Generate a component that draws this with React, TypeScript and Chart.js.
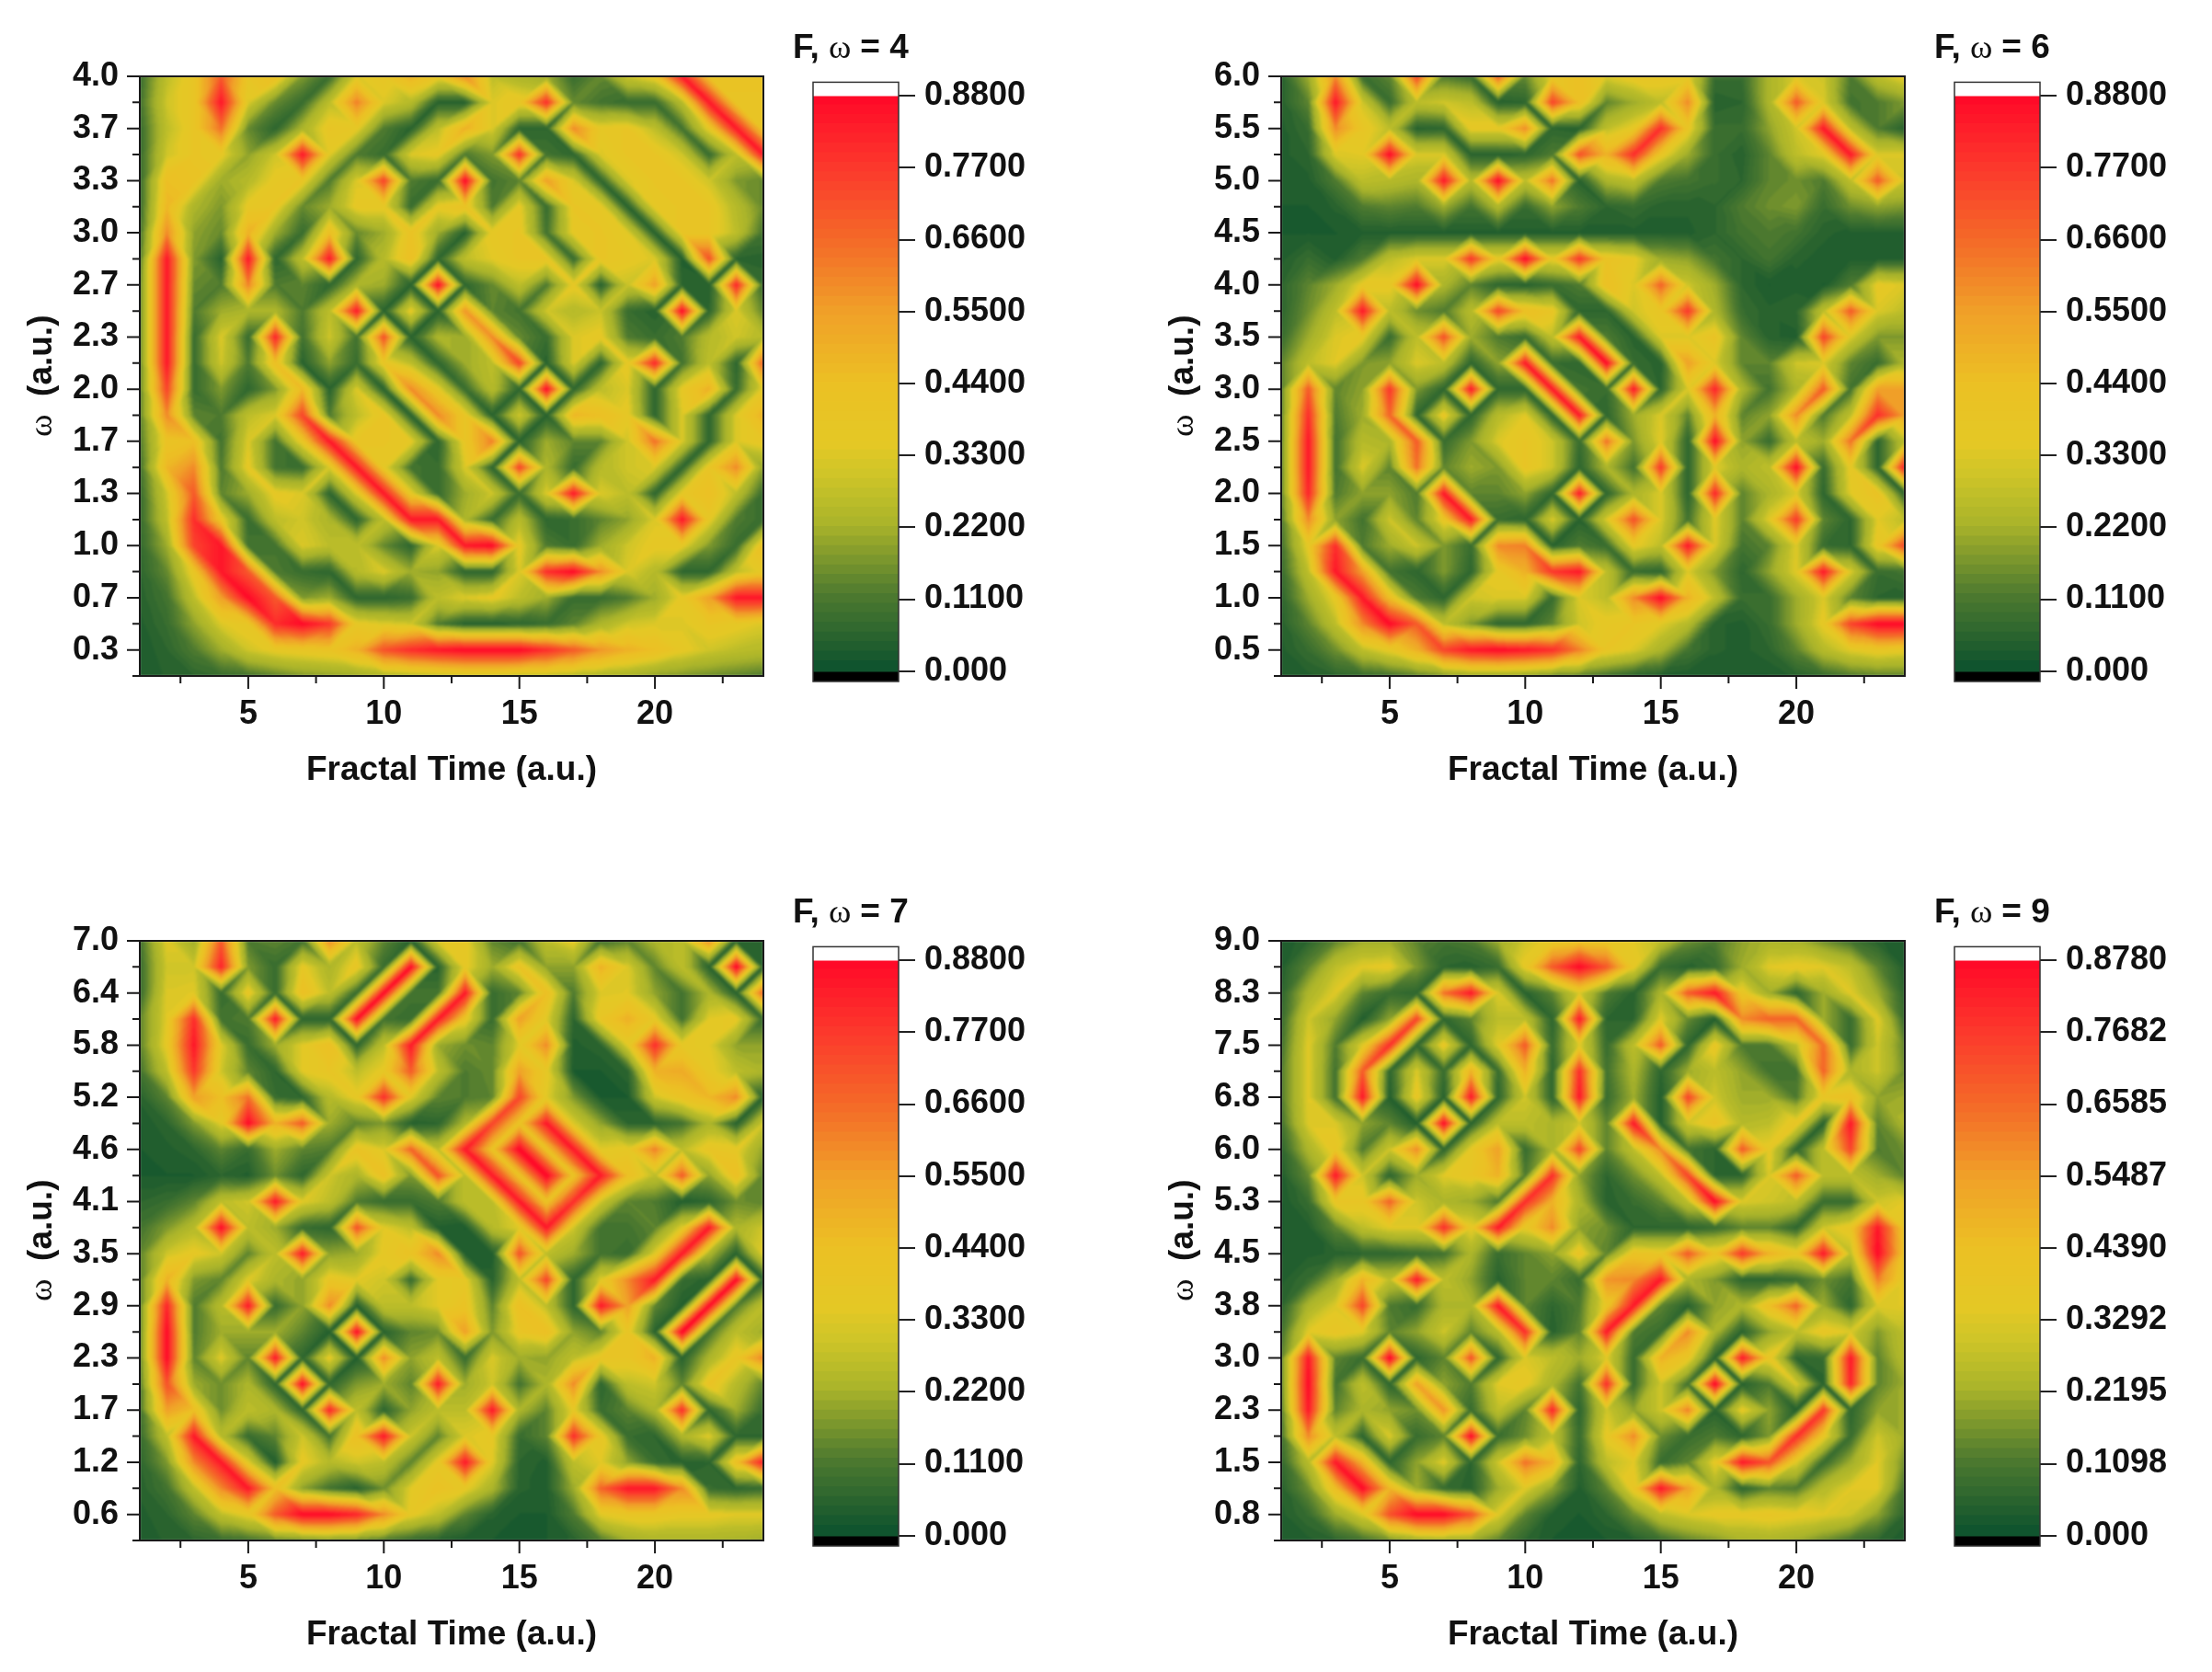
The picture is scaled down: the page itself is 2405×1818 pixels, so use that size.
import React, { useEffect, useRef } from "react";
import { Chart, registerables } from "chart.js";
Chart.register(...registerables);

const FONT = 'OmegaSerif, "Liberation Sans", Arial, sans-serif';
const TIME = [1,2,3,4,5,6,7,8,9,10,11,12,13,14,15,16,17,18,19,20,21,22,23,24];
const X_TICKS = [2.5,5,7.5,10,12.5,15,17.5,20,22.5];
const X_MAJOR = [5,10,15,20];

const f4Rows = [
[8,30,40,70,40,45,18,8,35,40,50,40,60,30,25,22,8,15,33,40,85,42,42,42],
[10,33,40,85,35,15,8,30,62,35,28,5,5,35,40,80,15,10,8,8,28,85,40,40],
[8,30,40,65,15,6,25,40,38,12,5,30,50,35,6,6,60,38,40,30,10,38,85,40],
[8,33,40,38,20,33,85,36,12,8,35,38,12,18,80,10,6,35,40,40,33,8,30,85],
[8,45,42,22,28,38,40,12,35,75,12,8,88,10,14,55,35,6,35,40,40,33,18,15],
[8,48,25,18,38,40,15,22,38,38,8,38,42,12,38,8,40,38,5,38,40,40,28,15],
[10,60,20,15,50,22,8,45,15,22,42,22,5,38,40,10,38,40,36,5,40,40,30,10],
[12,85,18,5,85,6,30,85,6,28,45,6,30,36,40,40,8,40,38,35,4,72,6,5],
[14,85,15,12,62,12,14,6,25,22,5,88,6,15,30,12,38,5,32,55,6,5,82,8],
[14,85,12,22,25,25,12,30,85,5,38,5,58,14,10,33,28,32,8,5,88,6,35,14],
[14,85,8,35,8,82,10,33,10,72,5,25,22,60,15,8,35,38,12,8,12,28,33,28],
[14,85,8,33,12,45,5,20,8,40,30,6,22,30,75,5,35,6,38,82,10,30,6,70],
[14,75,8,18,6,18,48,5,35,5,60,38,8,28,6,88,6,30,35,6,38,50,8,38],
[14,60,14,12,30,35,75,12,30,40,5,60,40,5,33,5,48,45,38,6,35,6,35,50],
[12,42,45,10,35,10,40,85,40,40,38,6,40,62,5,22,14,14,33,65,35,6,35,40],
[10,48,60,12,38,10,8,35,85,38,10,8,35,6,75,25,8,28,33,35,6,40,60,20],
[8,33,70,14,22,38,35,6,35,85,38,8,22,33,8,35,85,35,30,6,38,45,30,8],
[8,30,80,40,8,30,33,25,6,30,85,85,25,8,28,6,8,14,20,35,85,38,12,8],
[7,22,75,85,10,10,35,30,30,15,6,35,85,88,38,12,8,22,33,38,38,18,8,45],
[6,15,40,85,70,12,8,6,28,35,22,20,6,6,35,80,88,60,35,28,6,6,30,38],
[5,10,30,55,88,70,18,22,6,6,8,30,35,38,30,22,8,8,12,22,38,55,85,85],
[4,8,20,35,40,80,88,78,38,35,33,12,5,5,6,8,14,25,33,35,35,40,38,35],
[3,6,12,22,33,38,40,42,50,72,80,85,88,88,88,80,70,58,50,45,38,33,30,28],
[3,5,6,8,10,14,18,20,22,26,28,30,32,32,30,30,28,26,24,20,18,16,14,12],
];
const f6Rows = [
[5,22,60,8,14,75,12,8,70,15,38,45,35,40,40,38,8,8,25,35,33,12,30,38],
[5,14,85,33,8,30,33,30,5,6,75,45,14,22,30,60,5,6,25,70,35,10,12,18],
[4,8,60,40,30,5,6,38,38,60,6,5,30,38,80,40,8,8,20,33,85,30,12,5],
[4,6,35,36,88,35,35,5,5,6,12,72,50,80,40,22,8,5,14,30,36,85,35,35],
[4,4,12,30,28,25,85,28,88,30,65,5,25,30,12,10,8,6,14,16,12,30,70,33],
[3,3,5,12,14,12,22,10,26,8,20,12,6,8,5,5,6,12,16,18,8,16,20,18],
[3,3,3,4,4,4,4,4,4,4,4,4,4,4,4,4,6,10,12,10,5,4,4,4],
[4,8,4,12,30,35,35,78,38,88,38,78,42,38,22,20,10,6,10,5,4,4,4,4],
[6,14,22,38,38,88,25,14,6,5,8,12,45,35,68,33,22,6,3,4,3,12,38,35],
[6,16,30,85,30,16,12,28,75,45,40,6,6,33,40,78,25,8,5,6,30,70,35,30],
[8,22,35,38,8,30,72,22,12,8,30,85,12,5,35,35,42,14,5,4,75,35,18,18],
[14,30,36,18,20,35,30,6,20,85,8,6,88,8,5,55,35,14,14,33,35,14,8,25],
[14,70,14,20,78,18,6,85,6,6,85,10,8,85,6,35,82,25,10,25,70,10,55,55],
[14,80,12,22,68,6,40,6,28,36,6,85,6,22,35,14,50,14,20,60,12,30,80,55],
[14,85,10,28,25,70,8,18,35,40,33,8,65,18,36,6,88,20,8,30,22,65,6,30],
[14,85,10,35,14,65,14,22,18,40,33,6,25,10,78,6,36,25,30,88,8,38,6,85],
[14,82,12,20,20,12,85,14,14,20,6,85,6,25,35,6,82,14,25,35,6,36,42,6],
[12,60,20,10,33,14,40,85,8,6,35,5,35,72,35,10,36,14,36,78,14,6,36,30],
[10,38,80,12,22,33,18,8,60,62,5,12,8,38,30,85,35,10,14,35,8,6,40,75],
[8,30,85,55,10,6,18,6,38,50,78,85,30,8,6,35,18,6,20,36,85,35,8,10],
[6,22,38,85,45,12,6,33,35,35,8,35,30,60,88,50,30,8,8,22,35,14,6,5],
[5,14,30,60,88,70,30,18,6,6,14,33,38,40,36,28,5,4,8,22,38,75,88,88],
[4,8,16,30,38,50,75,85,88,85,80,62,40,35,25,10,5,4,6,14,28,36,40,38],
[3,4,6,8,10,14,18,22,22,20,16,14,10,6,4,3,3,3,3,5,8,12,14,14],
];
const f7Rows = [
[10,36,22,70,12,14,10,60,30,14,5,35,38,14,10,30,38,10,14,25,30,60,5,5],
[8,33,33,82,18,8,38,25,40,8,88,5,38,22,42,20,20,50,35,14,30,5,90,5],
[8,35,36,8,40,8,45,30,8,88,10,10,85,8,14,45,12,35,36,20,10,25,5,70],
[14,36,80,10,12,85,6,6,88,10,8,85,40,8,55,36,6,40,50,38,10,36,38,8],
[14,38,85,36,8,22,36,45,6,30,85,22,16,14,36,60,4,6,36,80,38,36,20,20],
[10,30,78,33,14,6,36,40,30,38,70,30,12,15,55,38,3,3,6,50,52,38,30,25],
[5,14,55,45,65,8,6,28,38,80,36,14,12,14,75,36,18,3,3,33,42,48,60,5],
[3,6,18,36,88,50,70,22,14,18,5,6,25,75,42,85,35,20,6,6,10,25,5,33],
[3,4,6,14,8,22,14,12,42,35,68,30,85,42,90,42,85,36,38,62,30,40,38,20],
[3,3,3,6,4,16,6,33,25,44,18,72,30,85,42,90,42,85,45,30,70,20,45,14],
[6,8,14,30,33,85,36,30,12,8,8,12,30,30,85,42,80,33,14,12,4,6,16,14],
[10,18,28,88,30,22,8,6,72,36,30,4,3,28,36,85,33,10,10,14,36,85,25,33],
[14,33,38,33,14,30,85,20,22,38,42,60,4,4,72,30,22,10,8,36,85,25,5,36],
[14,50,18,14,36,25,20,40,36,33,8,36,38,5,30,75,6,36,60,85,8,5,88,5],
[14,82,12,28,85,8,20,60,4,30,30,36,42,14,45,30,6,85,55,14,4,88,12,30],
[14,88,12,22,22,22,14,4,88,5,14,16,55,18,40,45,20,14,40,5,90,10,30,22],
[14,88,14,36,14,85,6,38,4,60,20,30,8,35,22,20,30,40,40,50,5,25,40,62],
[12,72,22,16,25,6,88,6,18,22,14,85,22,33,10,25,60,6,30,33,14,42,28,14],
[10,55,45,16,30,25,6,82,30,6,20,30,30,85,25,14,38,8,14,25,80,6,22,8],
[8,30,85,28,8,14,33,10,45,85,33,14,35,38,8,14,80,40,8,6,25,36,6,6],
[6,18,60,85,36,4,38,28,33,30,14,38,85,36,6,4,30,36,20,8,5,6,45,85],
[5,10,30,60,85,45,20,10,5,16,36,42,38,25,5,4,22,68,85,85,60,8,6,8],
[4,6,14,30,38,70,88,88,82,60,38,30,14,5,3,3,12,36,40,40,38,38,36,36],
[3,5,6,8,10,14,16,18,16,12,8,5,3,3,3,3,5,12,22,25,25,25,24,22],
];
const f9Rows = [
[3,6,14,22,22,14,10,12,22,33,38,42,40,36,30,16,12,20,25,24,16,10,5,3],
[4,14,30,36,38,18,6,5,8,38,70,88,70,38,8,5,8,22,36,38,36,30,14,4],
[6,25,36,14,8,6,65,85,35,5,14,35,12,5,25,70,85,40,22,6,22,36,22,6],
[8,33,20,4,20,75,6,14,30,30,6,85,6,6,36,15,4,60,68,68,22,8,36,8],
[10,36,12,36,80,6,40,6,36,70,8,36,8,30,70,6,40,12,12,30,66,8,33,14],
[12,36,10,70,6,35,8,50,8,50,6,80,10,25,6,22,30,20,10,10,68,25,33,16],
[12,36,10,85,4,40,5,85,6,33,6,85,8,22,4,75,33,22,22,12,40,45,20,22],
[10,35,35,20,14,4,88,5,30,30,25,33,14,85,4,33,42,28,30,40,5,85,14,25],
[6,25,40,12,33,60,6,38,55,8,25,75,14,30,60,10,6,70,38,6,30,75,12,16],
[4,15,85,33,6,22,36,40,50,12,80,20,6,16,30,75,6,6,35,70,30,30,22,14],
[3,8,40,40,68,33,25,22,12,80,50,25,5,8,14,30,88,35,33,30,8,8,33,36],
[3,4,14,30,36,36,80,38,85,38,60,20,16,6,6,6,8,14,14,6,33,40,85,40],
[3,4,5,6,6,8,10,25,8,14,20,42,14,42,40,70,42,78,50,40,85,30,88,42],
[4,8,22,50,30,85,30,20,5,14,14,8,58,60,85,25,18,6,6,8,16,10,62,36],
[6,25,35,75,12,8,25,25,85,14,6,12,40,85,14,5,20,25,45,68,22,6,35,36],
[10,36,40,36,14,20,33,14,28,80,5,14,85,12,8,60,25,5,20,30,40,35,18,30],
[14,85,14,8,90,6,14,72,6,35,30,22,36,8,50,40,5,85,40,6,8,85,14,28],
[14,88,10,30,6,55,20,12,36,38,25,10,80,8,33,10,90,5,12,35,5,82,14,22],
[12,85,14,25,20,16,58,8,30,14,82,6,33,20,33,62,5,38,20,4,78,6,20,22],
[10,60,30,6,35,8,14,88,8,16,30,8,38,60,16,8,12,6,18,80,40,8,33,22],
[7,28,85,50,6,20,36,6,33,65,50,6,30,36,8,14,38,85,72,36,8,22,36,16],
[5,16,45,88,48,22,8,5,22,36,20,4,14,40,85,55,25,6,14,12,28,36,36,10],
[4,8,22,35,72,88,88,72,36,14,4,3,6,16,30,35,38,38,40,38,36,33,20,6],
[3,4,6,10,16,22,24,22,14,6,3,3,3,4,8,14,18,24,25,22,16,10,6,3],
];

const f4Labels = ["4.0","3.7","3.3","3.0","2.7","2.3","2.0","1.7","1.3","1.0","0.7","0.3"];
const f6Labels = ["6.0","5.5","5.0","4.5","4.0","3.5","3.0","2.5","2.0","1.5","1.0","0.5"];
const f7Labels = ["7.0","6.4","5.8","5.2","4.6","4.1","3.5","2.9","2.3","1.7","1.2","0.6"];
const f9Labels = ["9.0","8.3","7.5","6.8","6.0","5.3","4.5","3.8","3.0","2.3","1.5","0.8"];

const barTicks = [0,0.11,0.22,0.33,0.44,0.55,0.66,0.77,0.88];
const barLabels = ["0.000","0.1100","0.2200","0.3300","0.4400","0.5500","0.6600","0.7700","0.8800"];
const bar9Ticks = [0,0.1098,0.2195,0.3292,0.439,0.5487,0.6585,0.7682,0.878];
const bar9Labels = ["0.000","0.1098","0.2195","0.3292","0.4390","0.5487","0.6585","0.7682","0.8780"];

const panels = [
  { name: "F, ω = 4", top: 4, rows: f4Rows, labels: f4Labels, tv: barTicks, tl: barLabels, left: 152, y: 83, barLeft: 884 },
  { name: "F, ω = 6", top: 6, rows: f6Rows, labels: f6Labels, tv: barTicks, tl: barLabels, left: 1393, y: 83, barLeft: 2125 },
  { name: "F, ω = 7", top: 7, rows: f7Rows, labels: f7Labels, tv: barTicks, tl: barLabels, left: 152, y: 1023, barLeft: 884 },
  { name: "F, ω = 9", top: 9, rows: f9Rows, labels: f9Labels, tv: bar9Ticks, tl: bar9Labels, left: 1393, y: 1023, barLeft: 2125 },
];

const STOPS: [number, number[]][] = [
  [0, [16, 84, 46]], [0.125, [78, 122, 47]], [0.25, [170, 180, 42]], [0.33, [204, 196, 40]],
  [0.39, [228, 200, 37]], [0.5, [236, 192, 36]], [0.625, [240, 160, 40]], [0.75, [244, 106, 40]],
  [0.875, [252, 58, 44]], [1, [255, 10, 40]],
];
const LEVELS = 60;
function rampColor(t: number) {
  const q = Math.min(LEVELS - 1, Math.max(0, Math.floor(t * LEVELS))) / (LEVELS - 1);
  for (let k = 1; k < STOPS.length; k++) {
    if (q <= STOPS[k][0]) {
      const [a, ca] = STOPS[k - 1];
      const [b, cb] = STOPS[k];
      const f = (q - a) / (b - a);
      return ca.map((v, j) => Math.round(v + (cb[j] - v) * f));
    }
  }
  return STOPS[STOPS.length - 1][1];
}

// Eye-reading calibration: my readings in the olive-yellow range ran a little high.
const READ_TABLE = [[0, 0], [22, 21], [30, 26], [36, 34], [42, 41], [90, 90]];
function calibrate(v: number) {
  for (let k = 1; k < READ_TABLE.length; k++) {
    if (v <= READ_TABLE[k][0]) {
      const [a, fa] = READ_TABLE[k - 1];
      const [b, fb] = READ_TABLE[k];
      return fa + ((v - a) / (b - a)) * (fb - fa);
    }
  }
  return v;
}

const contourPlugin = {
  id: "contourCells",
  beforeDatasetsDraw(chart: any) {
    const rows: number[][] = chart.options.plugins.contourCells.rows;
    const top: number = chart.options.plugins.contourCells.top;
    const step = top / 24;
    const { left, right, top: t, bottom } = chart.chartArea;
    const xs = chart.scales.x, ys = chart.scales.y;
    const w = Math.round(right - left), h = Math.round(bottom - t);
    const off = document.createElement("canvas");
    off.width = w; off.height = h;
    const octx = off.getContext("2d")!;
    const img = octx.createImageData(w, h);
    for (let py = 0; py < h; py++) {
      const ri = Math.min(22.9999, Math.max(0, (top - ys.getValueForPixel(t + py + 0.5)) / step));
      const r = Math.floor(ri), fy = ri - r;
      for (let px = 0; px < w; px++) {
        const ci = Math.min(22.9999, Math.max(0, xs.getValueForPixel(left + px + 0.5) - 1));
        const c = Math.floor(ci), fx = ci - c;
        const a = rows[r][c], b = rows[r][c + 1], d = rows[r + 1][c], e = rows[r + 1][c + 1];
        let v: number;
        if (Math.abs(a - e) <= Math.abs(b - d)) {
          v = fx >= fy ? a + fx * (b - a) + fy * (e - b) : a + fy * (d - a) + fx * (e - d);
        } else {
          v = fx + fy <= 1 ? a + fx * (b - a) + fy * (d - a) : e + (1 - fx) * (d - e) + (1 - fy) * (b - e);
        }
        const col = rampColor(calibrate(v) / 88);
        const o = (py * w + px) * 4;
        img.data[o] = col[0]; img.data[o + 1] = col[1]; img.data[o + 2] = col[2]; img.data[o + 3] = 255;
      }
    }
    octx.putImageData(img, 0, 0);
    const ctx = chart.ctx;
    ctx.save();
    ctx.beginPath();
    ctx.rect(left, t, w, h);
    ctx.clip();
    ctx.filter = "blur(1px)";
    ctx.drawImage(off, left, t);
    ctx.filter = "none";
    ctx.restore();
  },
  afterDraw(chart: any) {
    const ctx = chart.ctx;
    const { left, right, top, bottom } = chart.chartArea;
    const xs = chart.scales.x, ys = chart.scales.y;
    ctx.save();
    ctx.strokeStyle = "#1a1a1a";
    ctx.lineWidth = 2;
    ctx.strokeRect(left, top, right - left, bottom - top);
    ctx.beginPath();
    X_TICKS.forEach((v) => {
      const p = xs.getPixelForValue(v);
      ctx.moveTo(p, bottom);
      ctx.lineTo(p, bottom + (X_MAJOR.includes(v) ? 14 : 8));
    });
    ys.ticks.forEach((tk: any, i: number) => {
      const p = ys.getPixelForValue(tk.value);
      ctx.moveTo(left, p);
      ctx.lineTo(left - (i % 2 === 0 ? 14 : 8), p);
    });
    ctx.stroke();
    ctx.restore();
  },
};

const barFramePlugin = {
  id: "barFrame",
  afterDraw(chart: any) {
    const { left, right, top, bottom } = chart.chartArea;
    const ctx = chart.ctx;
    ctx.save();
    ctx.strokeStyle = "#333";
    ctx.lineWidth = 1.5;
    ctx.strokeRect(left, top, right - left, bottom - top);
    ctx.restore();
  },
};

export default function App() {
  const holder = useRef<HTMLDivElement>(null);
  useEffect(() => {
    let dead = false;
    const charts: Chart[] = [];
    const style = document.createElement("style");
    style.textContent = "@font-face{font-family:OmegaSerif;src:local('Liberation Serif');font-weight:bold;unicode-range:U+03C9;}html,body{margin:0;background:#fff}";
    document.head.appendChild(style);
    const build = () => {
      if (dead || !holder.current) return;
      panels.forEach((p) => {
        const mk = (l: number, t: number, w: number, h: number) => {
          const c = document.createElement("canvas");
          c.width = w; c.height = h;
          c.style.cssText = `position:absolute;left:${l}px;top:${t}px;width:${w}px;height:${h}px`;
          holder.current!.appendChild(c);
          return c;
        };
        const step = p.top / 24;
        const yVals = p.rows.map((_, i) => p.top - i * step);
        const padLeft = 152;
        const heat = mk(p.left - padLeft, p.y - 24, padLeft + 678 + 12, 24 + 652 + 125);
        charts.push(new Chart(heat, {
          type: "scatter",
          plugins: [contourPlugin],
          data: { datasets: [{ label: p.name, pointRadius: 0, showLine: false,
            data: p.rows.flatMap((row, i) => row.map((v, c) => ({ x: TIME[c], y: yVals[i], v }))) }] },
          options: {
            animation: false, responsive: false, devicePixelRatio: 1,
            layout: { padding: { top: 24, right: 12, left: 0, bottom: 0 } },
            plugins: { legend: { display: false }, tooltip: { enabled: false }, contourCells: { rows: p.rows, top: p.top } } as any,
            scales: {
              x: {
                type: "linear", min: 1, max: 24,
                afterBuildTicks: (s: any) => { s.ticks = X_TICKS.map((value) => ({ value })); },
                afterFit: (s: any) => { s.height = 125; s.paddingLeft = 0; s.paddingRight = 0; },
                grid: { display: false, drawTicks: false }, border: { display: false },
                ticks: { autoSkip: false, maxRotation: 0, padding: 20, color: "#111",
                  font: { family: FONT, size: 36, weight: "bold" },
                  callback: (v: any) => (X_MAJOR.includes(v) ? String(v) : "") },
                title: { display: true, text: "Fractal Time (a.u.)", color: "#111", padding: 0,
                  font: { family: FONT, size: 37, weight: "bold" } },
              },
              y: {
                type: "linear", min: step, max: p.top,
                afterBuildTicks: (s: any) => { s.ticks = yVals.map((value) => ({ value })); },
                afterFit: (s: any) => { s.width = padLeft; s.paddingTop = 0; s.paddingBottom = 0; },
                grid: { display: false, drawTicks: false }, border: { display: false },
                ticks: { autoSkip: false, padding: 23, color: "#111",
                  font: { family: FONT, size: 36, weight: "bold" },
                  callback: (_: any, i: number) => (i % 2 === 0 ? p.labels[i / 2] : "") },
                title: { display: true, text: "ω  (a.u.)", color: "#111", padding: { top: 24, bottom: 0 },
                  font: { family: FONT, size: 37, weight: "bold" } },
              },
            },
          } as any,
        }));

        const maxV = p.tv[p.tv.length - 1];
        const lo = -maxV * 0.018, hi = maxV * 1.0236;
        const bandW = maxV / LEVELS;
        const bands: any[] = [
          { data: [[lo, 0]], backgroundColor: "#000" },
          { data: [[maxV, hi]], backgroundColor: "#fff" },
        ];
        for (let k = 0; k < LEVELS; k++) {
          const c = rampColor((k + 0.5) / LEVELS);
          bands.push({ data: [[k === 0 ? lo : k * bandW, (k + 1) * bandW + bandW * 0.1]], backgroundColor: `rgb(${c[0]},${c[1]},${c[2]})` });
        }
        const barCanvas = mk(p.barLeft - 22, p.y - 58, 280, 58 + 6 + 652 + 20);
        charts.push(new Chart(barCanvas, {
          type: "bar",
          plugins: [barFramePlugin],
          data: { labels: [p.name], datasets: bands.map((b) => ({ ...b, xAxisID: "x", yAxisID: "y", borderWidth: 0, barPercentage: 1, categoryPercentage: 1 })) },
          options: {
            animation: false, responsive: false, devicePixelRatio: 1,
            layout: { padding: { left: 0, right: 0, bottom: 20, top: 0 } },
            plugins: {
              legend: { display: false }, tooltip: { enabled: false },
              title: { display: true, text: p.name, align: "start", color: "#111", padding: { top: 6, bottom: 14 },
                font: { family: FONT, size: 37, weight: "bold" } },
            },
            scales: {
              x: { display: false, stacked: true },
              y: {
                position: "right", min: lo, max: hi, stacked: false,
                afterBuildTicks: (s: any) => { s.ticks = p.tv.map((value) => ({ value })); },
                afterFit: (s: any) => { s.width = 165; s.paddingTop = 0; s.paddingBottom = 0; },
                grid: { drawOnChartArea: false, drawTicks: true, tickLength: 18, color: "#222", lineWidth: 2 },
                border: { display: false },
                ticks: { autoSkip: false, padding: 10, color: "#111",
                  font: { family: FONT, size: 36, weight: "bold" },
                  callback: (_: any, i: number) => p.tl[i] },
              },
              gutter: {
                position: "left", display: true, min: 0, max: 1,
                afterFit: (s: any) => { s.width = 22; s.paddingTop = 0; s.paddingBottom = 0; },
                grid: { display: false, drawTicks: false }, border: { display: false }, ticks: { display: false },
              },
            },
          } as any,
        }));
      });
    };
    Promise.all([document.fonts.load('bold 36px OmegaSerif', 'ω'), document.fonts.load('bold 36px "Liberation Sans"', 'F')])
      .catch(() => null).then(build);
    return () => {
      dead = true;
      charts.forEach((c) => c.destroy());
      style.remove();
      if (holder.current) holder.current.innerHTML = "";
    };
  }, []);
  return <div ref={holder} style={{ position: "absolute", left: 0, top: 0, width: 2405, height: 1818, background: "#fff", overflow: "hidden" }} />;
}
